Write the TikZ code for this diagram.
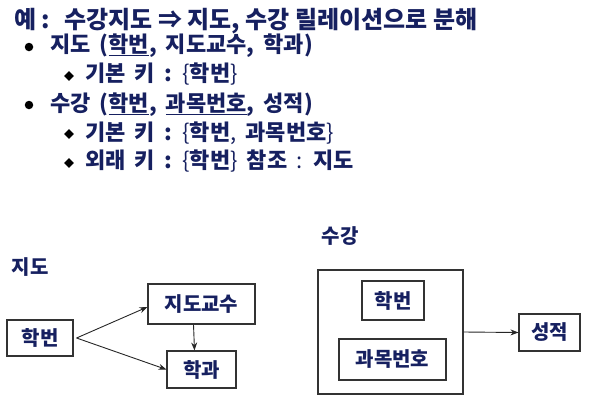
\documentclass[tikz,border=0pt]{standalone}
\usepackage{fontspec}
\setmainfont{Noto Sans CJK KR}
\newfontfamily\krlarge{Noto Sans CJK KR}[WordSpace=1.8]
\usetikzlibrary{arrows.meta,positioning,shapes.geometric}
\definecolor{ink}{RGB}{22,32,96}
\newcommand\mince[1]{{\mdseries #1}}
\tikzset{
  titre/.style={anchor=base west, inner sep=0pt, text=ink, font=\bfseries\fontsize{24}{28}\selectfont},
  ligne/.style={titre, font=\krlarge\bfseries\fontsize{22}{26}\selectfont},
  puce/.style={circle, fill=black, inner sep=0pt, minimum size=8.5pt},
  losange/.style={diamond, fill=black, inner sep=0pt, minimum size=10pt},
  boite/.style={draw=black!80, line width=1.1pt, text=ink, font=\bfseries\fontsize{20}{24}\selectfont, inner sep=0pt},
  fleche/.style={-{Stealth[length=8pt,width=6pt]}, line width=0.9pt, black!85},
}
\begin{document}
\begin{tikzpicture}[x=1pt,y=-1pt]
\useasboundingbox (0,0) rectangle (602,415);
% Texte
\node[titre] (l1) at (14,28) {예 :\hspace{14pt}수강지도 ⇒ 지도, 수강 릴레이션으로 분해};
\node[puce] (b1) at (29,47) {};
\node[ligne] (l2) at (50,52) {지도 (\underline{학번}, 지도교수, 학과)};
\node[losange] (d1) at (69,76) {};
\node[ligne] (l3) at (85,81) {기본 키 : \mince{\{}학번\mince{\}}};
\node[puce] (b2) at (29,105) {};
\node[ligne] (l4) at (50,111) {수강 (\underline{학번}, \underline{과목번호}, 성적)};
\node[losange] (d2) at (69,134) {};
\node[ligne] (l5) at (85,140) {기본 키 : \mince{\{}학번\mince{,} 과목번호\mince{\}}};
\node[losange] (d3) at (69,163) {};
\node[ligne] (l6) at (85,168) {외래 키 : \mince{\{}학번\mince{\}} 참조 \mince{:} 지도};

% Relation jido
\node[boite, draw=none] (t1) at (30,267) {지도};
\node[boite, minimum width=66pt, minimum height=36pt] (hakbeon) at (40,338) {학번};
\node[boite, minimum width=107pt, minimum height=40pt] (gyosu) at (201.5,304) {지도교수};
\node[boite, minimum width=69pt, minimum height=37pt] (hakgwa) at (201.5,369.5) {학과};
\coordinate (depart) at ([xshift=3pt]hakbeon.east);
\draw[fleche] (depart) -- ([yshift=-3pt]gyosu.west);
\draw[fleche] (depart) -- (hakgwa.west);
\draw[fleche] ([xshift=-8pt]gyosu.south) -- ([xshift=-7pt]hakgwa.north);

% Relation sugang
\node[boite, draw=none] (t2) at (340,236) {수강};
\node[boite, minimum width=145pt, minimum height=124pt] (sugang) at (390.5,332) {};
\node[boite, minimum width=62pt, minimum height=39pt] (hakbeon2) at (393,300.5) {학번};
\node[boite, minimum width=107pt, minimum height=41pt] (gwamok) at (392.5,359.5) {과목번호};
\node[boite, minimum width=61pt, minimum height=37pt] (seongjeok) at (549.5,332.5) {성적};
\draw[fleche] (sugang.east) -- (seongjeok.west);
\end{tikzpicture}
\end{document}
